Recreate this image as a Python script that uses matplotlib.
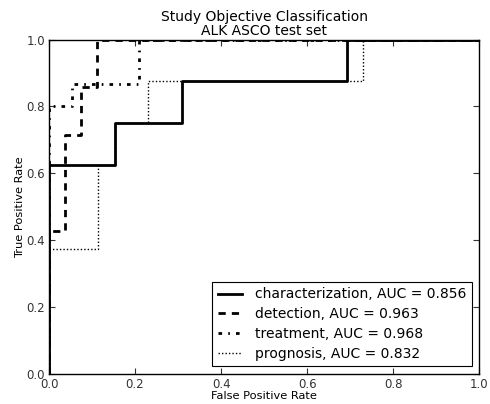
import matplotlib
matplotlib.use("Agg")
import matplotlib.pyplot as plt

# ROC curves (false positive rate, true positive rate)
char_fpr = [0.0, 0.0, 0.154, 0.154, 0.308, 0.308, 0.692, 0.692, 1.0]
char_tpr = [0.0, 0.625, 0.625, 0.75, 0.75, 0.875, 0.875, 1.0, 1.0]

det_fpr = [0.0, 0.0, 0.037, 0.037, 0.074, 0.074, 0.111, 0.111, 1.0]
det_tpr = [0.0, 0.429, 0.429, 0.714, 0.714, 0.857, 0.857, 1.0, 1.0]

treat_fpr = [0.0, 0.0, 0.053, 0.053, 0.209, 0.209, 1.0]
treat_tpr = [0.0, 0.8, 0.8, 0.867, 0.867, 1.0, 1.0]

prog_fpr = [0.0, 0.0, 0.115, 0.115, 0.154, 0.154, 0.231, 0.231, 0.731, 0.731, 1.0]
prog_tpr = [0.0, 0.375, 0.375, 0.625, 0.625, 0.75, 0.75, 0.875, 0.875, 1.0, 1.0]

labels = ["characterization, AUC = 0.856",
          "detection, AUC = 0.963",
          "treatment, AUC = 0.968",
          "prognosis, AUC = 0.832"]

fig = plt.figure(figsize=(4.9, 4.04), dpi=100)
ax = fig.add_axes([0.1, 0.074, 0.878, 0.828])

ax.plot(char_fpr, char_tpr, color='k', lw=2, linestyle='-', label=labels[0])
ax.plot(det_fpr, det_tpr, color='k', lw=2, linestyle=(0, (2.6, 2.2)), label=labels[1])
ax.plot(treat_fpr, treat_tpr, color='k', lw=2, linestyle=(0, (1.3, 2.2, 0.6, 2.2)), label=labels[2])
ax.plot(prog_fpr, prog_tpr, color='k', lw=1, linestyle=(0, (1, 1.5)), label=labels[3])

ax.set_xlim(0, 1)
ax.set_ylim(0, 1)
ax.set_xticks([0, 0.2, 0.4, 0.6, 0.8, 1.0])
ax.set_yticks([0, 0.2, 0.4, 0.6, 0.8, 1.0])
ax.set_xticklabels(["0.0", "0.2", "0.4", "0.6", "0.8", "1.0"])
ax.set_yticklabels(["0.0", "0.2", "0.4", "0.6", "0.8", "1.0"])
ax.tick_params(direction='in', top=True, right=True, labelsize=8.5, length=4, pad=3, colors='#333333')
for s in ax.spines.values():
    s.set_linewidth(1.0)

ax.set_xlabel("False Positive Rate", fontsize=8.2, labelpad=0)
ax.set_ylabel("True Positive Rate", fontsize=8.2, labelpad=1)
ax.set_title("Study Objective Classification\nALK ASCO test set", fontsize=10, linespacing=1.0, pad=3)

leg = ax.legend(loc='lower right', fontsize=10, fancybox=False, framealpha=1,
                edgecolor='k', handlelength=1.75, handletextpad=0.9,
                labelspacing=0.42, borderaxespad=0.55)
leg.get_frame().set_linewidth(0.8)

fig.savefig("out.png", dpi=100)
